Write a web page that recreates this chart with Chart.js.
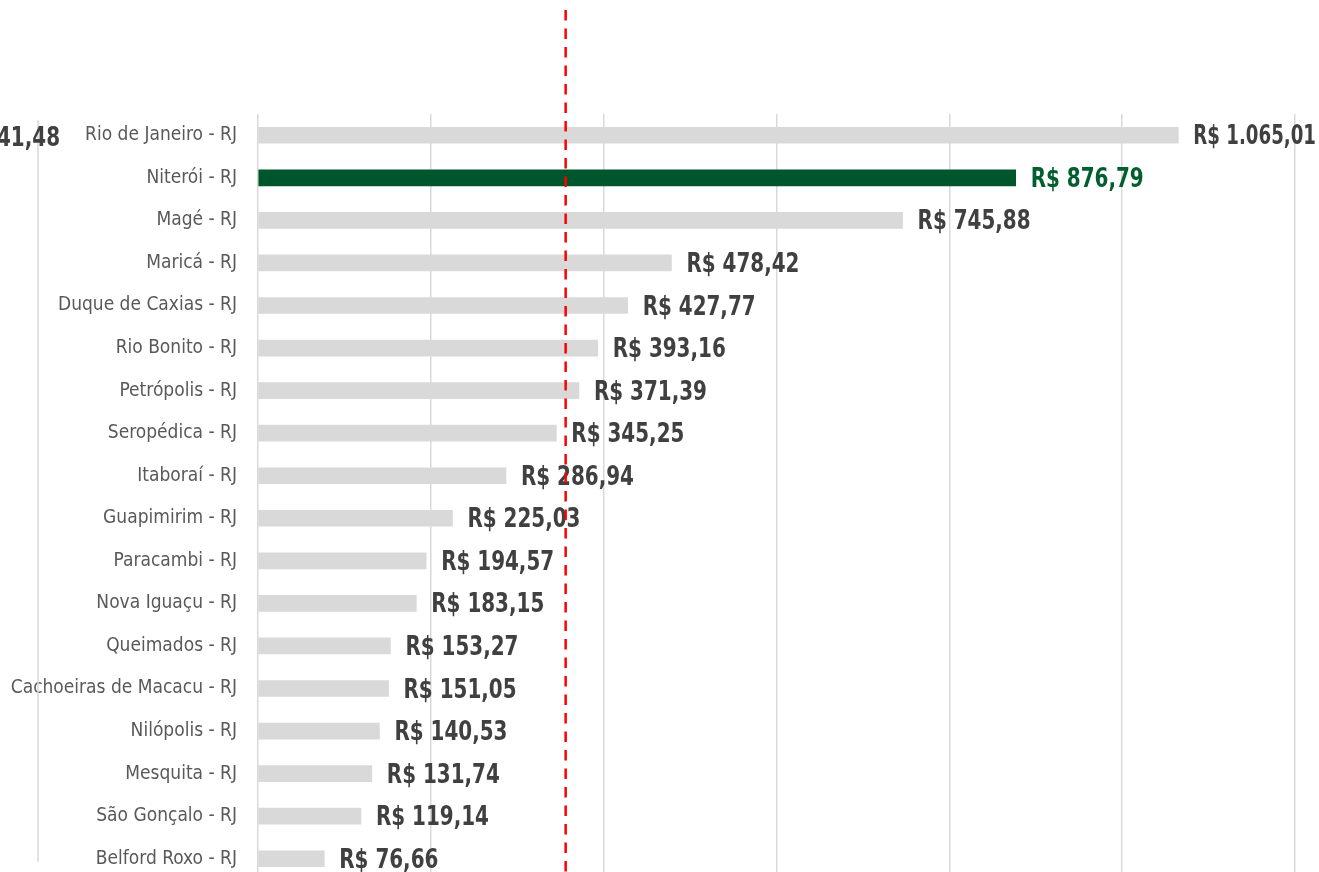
<!DOCTYPE html>
<html>
<head>
<meta charset="utf-8">
<script src="https://cdn.jsdelivr.net/npm/chart.js@4"></script>
<style>
    html, body { margin: 0; padding: 0; background: #fff; overflow: hidden; }
    canvas { display: block; }
</style>
</head>
<body>
<canvas id="rankChart" width="1319" height="880"></canvas>
<script>
// Municipalities and values (R$)
const cities = [
    'Rio de Janeiro - RJ', 'Niterói - RJ', 'Magé - RJ', 'Maricá - RJ',
    'Duque de Caxias - RJ', 'Rio Bonito - RJ', 'Petrópolis - RJ', 'Seropédica - RJ',
    'Itaboraí - RJ', 'Guapimirim - RJ', 'Paracambi - RJ', 'Nova Iguaçu - RJ',
    'Queimados - RJ', 'Cachoeiras de Macacu - RJ', 'Nilópolis - RJ', 'Mesquita - RJ',
    'São Gonçalo - RJ', 'Belford Roxo - RJ'
];
const values = [
    1065.01, 876.79, 745.88, 478.42, 427.77, 393.16, 371.39, 345.25,
    286.94, 225.03, 194.57, 183.15, 153.27, 151.05, 140.53, 131.74,
    119.14, 76.66
];
const highlightCity = 'Niterói - RJ';
const referenceValue = 356;       // red dashed reference line
const neighbourLabel = 'R$ 741,48'; // cut-off label from the neighbouring chart
const xMax = 1200;
const xStep = 200;

const GREEN = '#00562c';
const GREY_BAR = '#d9d9d9';
const LABEL_FONT = '"DejaVu Sans Condensed", "Liberation Sans Narrow", "Roboto", sans-serif';

const fmt = v => {
    const [i, d] = v.toFixed(2).split('.');
    return 'R$ ' + i.replace(/\B(?=(\d{3})+(?!\d))/g, '.') + ',' + d;
};

// bold condensed text: squeeze horizontally to mimic the narrow face
const drawNarrow = (ctx, text, x, y, align, maxRight) => {
    let sx = 0.82;
    if (maxRight) {
        const w = ctx.measureText(text).width;
        sx = Math.min(sx, (maxRight - x) / w);
    }
    ctx.save();
    ctx.translate(x, y);
    ctx.scale(sx, 1);
    ctx.textAlign = align;
    ctx.fillText(text, 0, 0);
    ctx.restore();
};

// value labels at bar ends
const valueLabels = {
    id: 'valueLabels',
    afterDatasetsDraw(chart) {
        const { ctx } = chart;
        const meta = chart.getDatasetMeta(0);
        ctx.save();
        ctx.font = 'bold 27px ' + LABEL_FONT;
        ctx.textBaseline = 'middle';
        meta.data.forEach((bar, i) => {
            ctx.fillStyle = cities[i] === highlightCity ? '#005f2f' : '#404040';
            drawNarrow(ctx, fmt(values[i]), bar.x + 15, bar.y + 2, 'left', chart.width - 3);
        });
        ctx.restore();
    }
};

// red dashed reference line + leftovers of the neighbouring chart
const extras = {
    id: 'extras',
    afterDraw(chart) {
        const { ctx, scales: { x, y } } = chart;
        ctx.save();
        // neighbour chart gridline and label
        ctx.strokeStyle = '#d9d9d9';
        ctx.lineWidth = 1.5;
        ctx.beginPath();
        ctx.moveTo(38, y.top + 6);
        ctx.lineTo(38, 862);
        ctx.stroke();
        ctx.font = 'bold 27px ' + LABEL_FONT;
        ctx.fillStyle = '#404040';
        ctx.textBaseline = 'middle';
        drawNarrow(ctx, neighbourLabel, 60, y.getPixelForValue(0) + 4, 'right');
        // reference line
        const px = x.getPixelForValue(referenceValue);
        ctx.strokeStyle = '#ff0000';
        ctx.lineWidth = 2.5;
        ctx.setLineDash([10.5, 8]);
        ctx.beginPath();
        ctx.moveTo(px, 10);
        ctx.lineTo(px, chart.height);
        ctx.stroke();
        ctx.restore();
    }
};

const initRankChart = () => {
    const ctx = document.getElementById('rankChart').getContext('2d');
    new Chart(ctx, {
        type: 'bar',
        data: {
            labels: cities,
            datasets: [{
                data: values,
                backgroundColor: cities.map(c => c === highlightCity ? GREEN : GREY_BAR),
                barThickness: 16
            }]
        },
        options: {
            indexAxis: 'y',
            responsive: false,
            animation: false,
            layout: { padding: { top: 114, right: 24, bottom: 0, left: 0 } },
            plugins: {
                legend: { display: false },
                tooltip: { enabled: false }
            },
            scales: {
                x: {
                    min: 0,
                    max: xMax,
                    afterFit: scale => { scale.height = 0; },
                    ticks: { display: false, stepSize: xStep },
                    grid: { color: '#d9d9d9', lineWidth: 1.5, drawTicks: false },
                    border: { display: false }
                },
                y: {
                    afterFit: scale => {
                        scale.width = 258;
                        scale.paddingTop = 0;
                        scale.paddingBottom = 0;
                    },
                    ticks: {
                        color: '#595959',
                        padding: 21,
                        font: { family: LABEL_FONT, size: 19 }
                    },
                    grid: { display: false, drawTicks: false },
                    border: { display: false }
                }
            }
        },
        plugins: [valueLabels, extras]
    });
};

document.addEventListener('DOMContentLoaded', initRankChart);
</script>
</body>
</html>
